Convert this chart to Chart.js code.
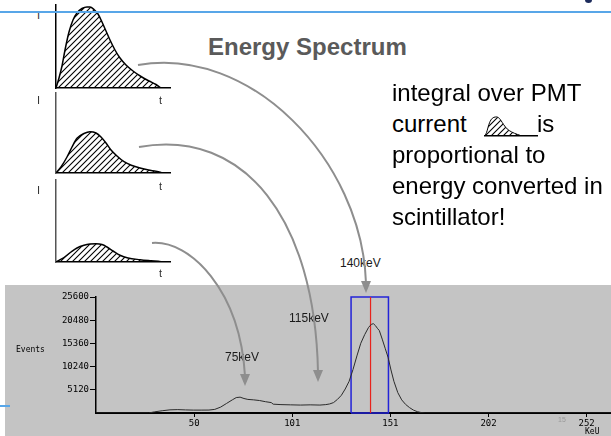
<!DOCTYPE html>
<html>
<head>
<meta charset="utf-8">
<script src="https://cdn.jsdelivr.net/npm/chart.js@4.4.1/dist/chart.umd.min.js"></script>
<style>
  html, body { margin: 0; padding: 0; background: #fff; }
  #page { position: relative; width: 611px; height: 436px; overflow: hidden; background: #fff;
          font-family: 'Liberation Sans', Arial, Helvetica, sans-serif; }
  .abs { position: absolute; white-space: nowrap; }
  .body { font-size: 24px; line-height: 31px; color: #000; }
  .pl { font-size: 11px; line-height: 11px; color: #333; }
  .kev { font-size: 12px; line-height: 12px; color: #1a1a1a; }
  .mono { font-family: 'DejaVu Sans Mono', 'Liberation Mono', monospace; font-size: 8px; line-height: 8px; color: #000; }
</style>
</head>
<body>
<div id="page">
  <!-- pulses -->
  <canvas id="p1" class="abs" width="125" height="92" style="left:50px;top:0px"></canvas>
  <canvas id="p2" class="abs" width="125" height="88" style="left:50px;top:89px"></canvas>
  <canvas id="p3" class="abs" width="125" height="90" style="left:50px;top:176px"></canvas>
  <div class="abs pl" style="left:37px;top:10px">I</div>
  <div class="abs pl" style="left:159px;top:95px">t</div>
  <div class="abs pl" style="left:37px;top:95px">I</div>
  <div class="abs pl" style="left:159px;top:181px">t</div>
  <div class="abs pl" style="left:37px;top:185px">I</div>
  <div class="abs pl" style="left:159px;top:268px">t</div>

  <div class="abs" style="left:0;top:11px;width:611px;height:2px;background:#58a6e8"></div>
  <div class="abs" style="left:585px;top:-3px;width:7px;height:6px;border-radius:50%;background:#1d2b5c"></div>

  <div class="abs" style="left:208px;top:35px;font-size:24px;line-height:24px;font-weight:bold;color:#5a5a5a">Energy Spectrum</div>

  <div class="abs body" style="left:392px;top:77px">integral over PMT</div>
  <div class="abs body" style="left:392px;top:108px">current</div>
  <canvas id="icon" class="abs" width="54" height="24" style="left:484px;top:113px"></canvas>
  <div class="abs body" style="left:537px;top:108px">is</div>
  <div class="abs body" style="left:392px;top:139px">proportional to</div>
  <div class="abs body" style="left:392px;top:170px">energy converted in</div>
  <div class="abs body" style="left:392px;top:201px">scintillator!</div>

  <!-- spectrum panel -->
  <div class="abs" style="left:5px;top:285px;width:606px;height:151px;background:#c4c4c4"></div>
  <canvas id="spec" class="abs" width="606" height="151" style="left:5px;top:285px"></canvas>
  <div class="abs" style="left:0;top:405px;width:10px;height:2px;background:#58a6e8"></div>
  <div class="abs mono" style="left:16px;top:346px">Events</div>
  <div class="abs mono" style="left:585px;top:428px">KeU</div>
  <div class="abs" style="left:558px;top:416px;font-size:7px;line-height:7px;color:#9a9a9a">15</div>

  <div class="abs kev" style="left:340px;top:257px">140keV</div>
  <div class="abs kev" style="left:289px;top:312px">115keV</div>
  <div class="abs kev" style="left:225px;top:351px">75keV</div>

  <svg class="abs" style="left:0;top:0" width="611" height="436">
    <g fill="none" stroke="#8e8e8e" stroke-width="2">
      <path d="M138 65 C250 45 362 160 366 283"/>
      <path d="M139 147 C245 128 315 220 318 372"/>
      <path d="M152 243 C190 240 240 290 245 376"/>
    </g>
    <g fill="#8e8e8e">
      <polygon points="361,281 371,281 366,293"/>
      <polygon points="313,370 323,370 318,382"/>
      <polygon points="240,374 250,374 245,386"/>
    </g>
  </svg>
</div>

<script>
// spectrum (keV, events)
var SPEC_KEV = [0, 27, 30, 34, 38, 42, 46, 50, 54, 58, 61, 64, 67, 70, 72, 74, 76, 78, 81, 84, 87, 90, 91, 95,
  100, 105, 110, 115, 118, 120, 122, 124, 126, 128, 130, 132, 134, 136, 138, 140, 141.5, 142.5, 143.5, 144.5,
  145.5, 147, 148.5, 150, 151.5, 153, 155, 157, 159, 161, 163, 165, 167, 169, 264.5];
var SPEC_COUNTS = [0, 0, 250, 500, 700, 750, 680, 640, 640, 650, 800, 1300, 2100, 2900, 3400, 3500, 3200, 3000,
  2900, 2750, 2500, 2300, 1950, 1850, 1800, 1750, 1800, 1750, 1850, 2000, 2300, 3000, 3900, 5300, 7000, 9600,
  12600, 15400, 17300, 18900, 19600, 19700, 19300, 18700, 18200, 16300, 14300, 12300, 9500, 7000, 4500, 2900,
  1900, 1200, 650, 300, 100, 0, 0];
var X_TICKS = [50.4, 100.8, 151.2, 201.6, 252];
var Y_MAX = 25600;
var Y_STEP = 5120;
var X_MAX = 264.5;
var WINDOW_KEV = [131, 150.2];
var PEAK_KEV = 141;

// pulse shapes (time, current)
var PULSE_T1 = [0, 3, 6, 9, 13, 17, 21, 26, 31, 34, 38, 42, 46, 50, 54, 59, 64, 70, 77, 85, 93, 100, 105];
var PULSE_I1 = [0, 10, 22, 38, 56, 68, 75, 79.5, 81, 81, 78.5, 74, 66, 57, 48, 38, 30, 23, 17, 11.5, 7, 3.5, 0];
var PULSE_T2 = [0, 5, 11, 16, 21, 28, 34, 40, 45, 50, 55, 61, 68, 76, 85, 95, 105, 106];
var PULSE_I2 = [0, 6, 16, 26, 34.7, 39.5, 41.3, 40, 36, 30, 23, 17, 11.3, 7.5, 4.7, 2.5, 0.5, 0];
var PULSE_T3 = [0, 3, 8, 15, 21, 28, 34, 40, 46, 51, 57, 64, 72, 84, 95, 105, 106];
var PULSE_I3 = [0, 1.7, 4.5, 10, 14, 16.7, 18, 18.3, 17.5, 15, 11, 6.7, 4, 2.3, 1.2, 0.3, 0];

function zip(xs, ys) {
  return xs.map(function (x, i) { return { x: x, y: ys[i] }; });
}

function hatch() {
  var c = document.createElement('canvas');
  c.width = 6; c.height = 6;
  var g = c.getContext('2d');
  g.strokeStyle = '#000';
  g.lineWidth = 1.1;
  g.beginPath();
  g.moveTo(0, 6); g.lineTo(6, 0);
  g.moveTo(-3, 3); g.lineTo(3, -3);
  g.moveTo(3, 9); g.lineTo(9, 3);
  g.stroke();
  return g.createPattern(c, 'repeat');
}
var HATCH = hatch();

function pulseChart(id, t, cur, xMax, yMax, pad, yAxisColor, lw) {
  return new Chart(document.getElementById(id).getContext('2d'), {
    type: 'line',
    data: { datasets: [{
      data: zip(t, cur),
      borderColor: '#000', borderWidth: lw, backgroundColor: HATCH, fill: 'origin',
      pointRadius: 0, tension: 0.4, cubicInterpolationMode: 'monotone'
    }] },
    options: {
      responsive: false, animation: false, events: [],
      layout: { padding: pad },
      plugins: { legend: { display: false }, tooltip: { enabled: false } },
      scales: {
        x: { type: 'linear', min: 0, max: xMax, ticks: { display: false },
             grid: { display: false, drawTicks: false }, border: { display: true, color: '#000', width: 1.5 } },
        y: { min: 0, max: yMax, ticks: { display: false },
             grid: { display: false, drawTicks: false },
             border: { display: !!yAxisColor, color: yAxisColor || '#000', width: 1.5 } }
      }
    }
  });
}

pulseChart('p1', PULSE_T1, PULSE_I1, 114, 83, { left: 6, right: 5, top: 5, bottom: 4 }, '#000', 1.5);
pulseChart('p2', PULSE_T2, PULSE_I2, 114, 80, { left: 6, right: 5, top: 4, bottom: 4 }, '#555', 1.5);
pulseChart('p3', PULSE_T3, PULSE_I3, 114, 82, { left: 6, right: 5, top: 4, bottom: 4 }, '#555', 1.5);
pulseChart('icon', PULSE_T1, PULSE_I1, 150, 85, { left: 1, right: 1, top: 3, bottom: 1 }, null, 1);

var MONO = "'DejaVu Sans Mono', 'Liberation Mono', monospace";

new Chart(document.getElementById('spec').getContext('2d'), {
  type: 'line',
  data: {
    datasets: [
      { data: zip(SPEC_KEV, SPEC_COUNTS), borderColor: '#2a2a2a', borderWidth: 1, pointRadius: 0,
        tension: 0, fill: false, order: 0 },
      { data: zip([WINDOW_KEV[0], WINDOW_KEV[0], WINDOW_KEV[1], WINDOW_KEV[1], WINDOW_KEV[0]], [0, Y_MAX, Y_MAX, 0, 0]),
        borderColor: '#2323d8', borderWidth: 1.5, pointRadius: 0, fill: false, clip: 4, order: 2 },
      { data: zip([PEAK_KEV, PEAK_KEV], [0, Y_MAX]),
        borderColor: '#e8221c', borderWidth: 1.2, pointRadius: 0, fill: false, clip: 4, order: 1 }
    ]
  },
  options: {
    responsive: false, animation: false, events: [],
    layout: { padding: { left: 0, right: 0, top: 12, bottom: 0 } },
    plugins: { legend: { display: false }, tooltip: { enabled: false } },
    scales: {
      x: {
        type: 'linear', min: 0, max: X_MAX,
        afterFit: function (s) { s.height = 23; },
        afterBuildTicks: function (s) { s.ticks = X_TICKS.map(function (v) { return { value: v }; }); },
        ticks: { autoSkip: false, maxRotation: 0, padding: 1, color: '#000', font: { family: MONO, size: 9 },
                 callback: function (v) { return String(Math.round(v)); } },
        grid: { drawOnChartArea: false, drawTicks: true, tickLength: 4, color: '#000', lineWidth: 1 },
        border: { display: true, color: '#000', width: 2 }
      },
      y: {
        min: 0, max: Y_MAX,
        afterFit: function (s) { s.width = 91; },
        ticks: { stepSize: Y_STEP, padding: 1, color: '#000', font: { family: MONO, size: 9 },
                 callback: function (v) { return v === 0 ? '' : String(v); } },
        grid: { drawOnChartArea: false, drawTicks: true, tickLength: 6, lineWidth: 1,
                color: function (ctx) { return ctx.tick && ctx.tick.value === 0 ? 'rgba(0,0,0,0)' : '#000'; } },
        border: { display: true, color: '#000', width: 1.5 }
      }
    }
  }
});
</script>
</body>
</html>
